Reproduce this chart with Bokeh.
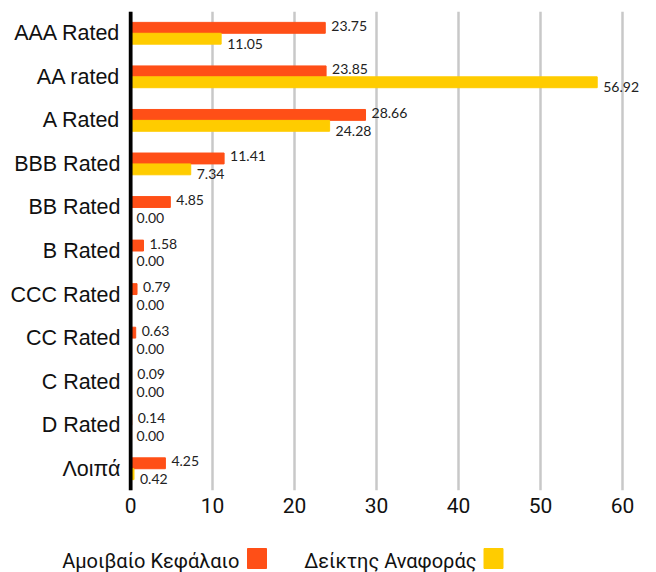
from bokeh.plotting import figure
from bokeh.models import ColumnDataSource, FactorRange, Range1d, Span, FixedTicker
from bokeh.transform import dodge
from bokeh.layouts import column
from bokeh.embed import file_html
from bokeh.resources import INLINE
from bokeh.core.properties import value

categories = ["AAA Rated", "AA rated", "A Rated", "BBB Rated", "BB Rated", "B Rated",
              "CCC Rated", "CC Rated", "C Rated", "D Rated", "Λοιπά"]
fund = [23.75, 23.85, 28.66, 11.41, 4.85, 1.58, 0.79, 0.63, 0.09, 0.14, 4.25]
benchmark = [11.05, 56.92, 24.28, 7.34, 0.00, 0.00, 0.00, 0.00, 0.00, 0.00, 0.42]
series_names = ["Αμοιβαίο Κεφάλαιο", "Δείκτης Αναφοράς"]
x_ticks = [0, 10, 20, 30, 40, 50, 60]

ORANGE = "#FF4F17"
YELLOW = "#FFCC00"
series_colors = [ORANGE, YELLOW]

src = ColumnDataSource(dict(
    cat=categories, fund=fund, bench=benchmark,
    fund_lbl=["%.2f" % v for v in fund],
    bench_lbl=["%.2f" % v for v in benchmark],
))

p = figure(width=656, height=530, output_backend="svg", toolbar_location=None,
           y_range=FactorRange(*reversed(categories), range_padding=0),
           x_range=Range1d(-0.25, 62.2), frame_align=False,
           min_border_left=128, min_border_right=16, min_border_top=11, min_border_bottom=40)
p.outline_line_color = None
p.background_fill_color = "white"

p.hbar(y=dodge("cat", 0.125, range=p.y_range), left=0, right="fund", height=0.25,
       color=ORANGE, source=src)
p.hbar(y=dodge("cat", -0.125, range=p.y_range), left=0, right="bench", height=0.25,
       color=YELLOW, source=src)

p.text(x="fund", y=dodge("cat", 0.125, range=p.y_range), text="fund_lbl", source=src,
       x_offset=6, y_offset=-2, text_font=value("Lato"), text_font_size="14px",
       text_color="#222222", text_baseline="middle", text_align="left")
p.text(x="bench", y=dodge("cat", -0.125, range=p.y_range), text="bench_lbl", source=src,
       x_offset=6, y_offset=5, text_font=value("Lato"), text_font_size="14px",
       text_color="#222222", text_baseline="middle", text_align="left")

p.add_layout(Span(location=0, dimension="height", line_color="black", line_width=4))

p.xaxis.ticker = FixedTicker(ticks=x_ticks)
p.xaxis.axis_line_color = None
p.xaxis.major_tick_line_color = None
p.xaxis.minor_tick_line_color = None
p.xaxis.major_tick_out = 0
p.xaxis.major_tick_in = 0
p.xaxis.minor_tick_out = 0
p.xaxis.major_label_text_font = "Roboto"
p.xaxis.major_label_text_font_size = "21px"
p.xaxis.major_label_text_color = "#111111"
p.xaxis.major_label_standoff = 7

p.yaxis.axis_line_color = None
p.yaxis.major_tick_line_color = None
p.yaxis.minor_tick_line_color = None
p.yaxis.major_tick_out = 0
p.yaxis.major_tick_in = 0
p.yaxis.minor_tick_out = 0
p.yaxis.major_label_text_font = "Liberation Sans"
p.yaxis.major_label_text_font_size = "21.5px"
p.yaxis.major_label_text_color = "#111111"
p.yaxis.major_label_standoff = 8

p.xgrid.grid_line_color = "#C8C8C8"
p.xgrid.grid_line_width = 2.5
p.ygrid.grid_line_color = None

# legend strip below the chart: each series name followed by its colour square
lg = figure(width=656, height=42, output_backend="svg", toolbar_location=None,
            x_range=Range1d(0, 656), y_range=Range1d(42, 0),
            x_axis_type=None, y_axis_type=None, frame_align=False,
            min_border=0, min_border_left=0, min_border_right=0,
            min_border_top=0, min_border_bottom=0)
lg.grid.visible = False
lg.outline_line_color = None
lsrc = ColumnDataSource(dict(name=series_names, tx=[239, 476], sx=[256.5, 493],
                             color=series_colors))
lg.text(x="tx", y=30, text="name", source=lsrc, text_align="right", text_baseline="middle",
        text_font=value("Roboto"), text_font_size="20px", text_color="#111111")
lg.rect(x="sx", y=28, width=19, height=20, color="color", source=lsrc)

layout = column(p, lg, spacing=0)
open("out.html", "w").write(file_html(layout, INLINE))
